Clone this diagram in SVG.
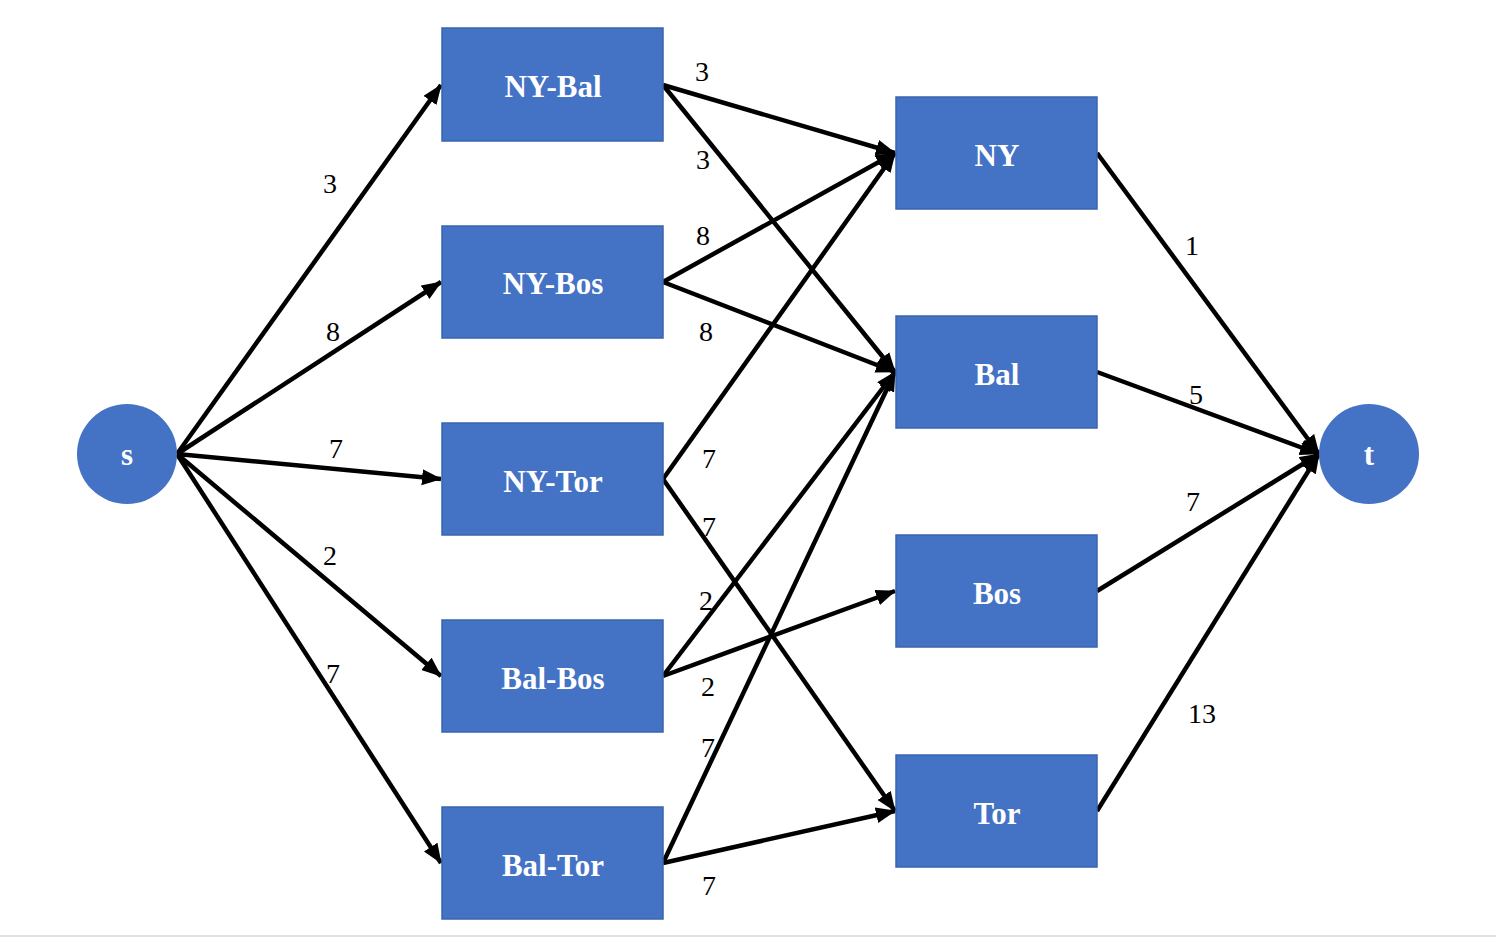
<svg xmlns="http://www.w3.org/2000/svg" width="1496" height="937" viewBox="0 0 1496 937">
<style>
.box{fill:#4472C4;stroke:#3A64AE;stroke-width:1.5}
.circ{fill:#4472C4}
.nl{font-family:"Liberation Serif",serif;font-weight:bold;font-size:31px;fill:#ffffff;text-anchor:middle}
.el{font-family:"Liberation Serif",serif;font-size:28px;fill:#000000;text-anchor:middle}
.e{stroke:#000;stroke-width:4.5;fill:none;marker-end:url(#ah)}
</style>
<defs>
<marker id="ah" markerUnits="userSpaceOnUse" markerWidth="22" markerHeight="18" refX="19" refY="8" orient="auto">
<path d="M0,0 L20,8 L0,16 Z" fill="#000"/>
</marker>
</defs>
<rect width="1496" height="937" fill="#fff"/>
<line x1="0" y1="936" x2="1496" y2="936" stroke="#d9d9d9" stroke-width="1.5"/>
<g id="connectors">
<line class="e" x1="177" y1="454" x2="441" y2="85"/>
<line class="e" x1="177" y1="454" x2="441" y2="282"/>
<line class="e" x1="177" y1="454" x2="441" y2="479"/>
<line class="e" x1="177" y1="454" x2="441" y2="676"/>
<line class="e" x1="177" y1="454" x2="441" y2="863"/>
<line class="e" x1="663" y1="85" x2="895" y2="153"/>
<line class="e" x1="663" y1="85" x2="895" y2="372"/>
<line class="e" x1="663" y1="282" x2="895" y2="153"/>
<line class="e" x1="663" y1="282" x2="895" y2="372"/>
<line class="e" x1="663" y1="479" x2="895" y2="153"/>
<line class="e" x1="663" y1="479" x2="895" y2="811"/>
<line class="e" x1="663" y1="676" x2="895" y2="372"/>
<line class="e" x1="663" y1="676" x2="895" y2="591"/>
<line class="e" x1="663" y1="863" x2="895" y2="372"/>
<line class="e" x1="663" y1="863" x2="895" y2="811"/>
<line class="e" x1="1097" y1="153" x2="1319" y2="454"/>
<line class="e" x1="1097" y1="372" x2="1319" y2="454"/>
<line class="e" x1="1097" y1="591" x2="1319" y2="454"/>
<line class="e" x1="1097" y1="811" x2="1319" y2="454"/>
</g>
<g id="edge-labels">
<text class="el" x="330" y="193">3</text>
<text class="el" x="333" y="341">8</text>
<text class="el" x="336" y="458">7</text>
<text class="el" x="330" y="565">2</text>
<text class="el" x="333" y="683">7</text>
<text class="el" x="702" y="81">3</text>
<text class="el" x="703" y="169">3</text>
<text class="el" x="703" y="245">8</text>
<text class="el" x="706" y="341">8</text>
<text class="el" x="709" y="468">7</text>
<text class="el" x="709" y="536">7</text>
<text class="el" x="706" y="610">2</text>
<text class="el" x="708" y="696">2</text>
<text class="el" x="708" y="757">7</text>
<text class="el" x="709" y="895">7</text>
<text class="el" x="1192" y="255">1</text>
<text class="el" x="1196" y="404">5</text>
<text class="el" x="1193" y="511">7</text>
<text class="el" x="1202" y="723">13</text>
</g>
<g id="node-s"><circle class="circ" cx="127" cy="454" r="50"/><text class="nl" x="127" y="465">s</text></g>
<g id="node-t"><circle class="circ" cx="1369" cy="454" r="50"/><text class="nl" x="1369" y="465">t</text></g>
<g id="node-NY-Bal"><rect class="box" x="442" y="28" width="221" height="113"/><text class="nl" x="553" y="97">NY-Bal</text></g>
<g id="node-NY-Bos"><rect class="box" x="442" y="226" width="221" height="112"/><text class="nl" x="553" y="294">NY-Bos</text></g>
<g id="node-NY-Tor"><rect class="box" x="442" y="423" width="221" height="112"/><text class="nl" x="553" y="492">NY-Tor</text></g>
<g id="node-Bal-Bos"><rect class="box" x="442" y="620" width="221" height="112"/><text class="nl" x="553" y="689">Bal-Bos</text></g>
<g id="node-Bal-Tor"><rect class="box" x="442" y="807" width="221" height="112"/><text class="nl" x="553" y="876">Bal-Tor</text></g>
<g id="node-NY"><rect class="box" x="896" y="97" width="201" height="112"/><text class="nl" x="997" y="166">NY</text></g>
<g id="node-Bal"><rect class="box" x="896" y="316" width="201" height="112"/><text class="nl" x="997" y="385">Bal</text></g>
<g id="node-Bos"><rect class="box" x="896" y="535" width="201" height="112"/><text class="nl" x="997" y="604">Bos</text></g>
<g id="node-Tor"><rect class="box" x="896" y="755" width="201" height="112"/><text class="nl" x="997" y="824">Tor</text></g>
</svg>
